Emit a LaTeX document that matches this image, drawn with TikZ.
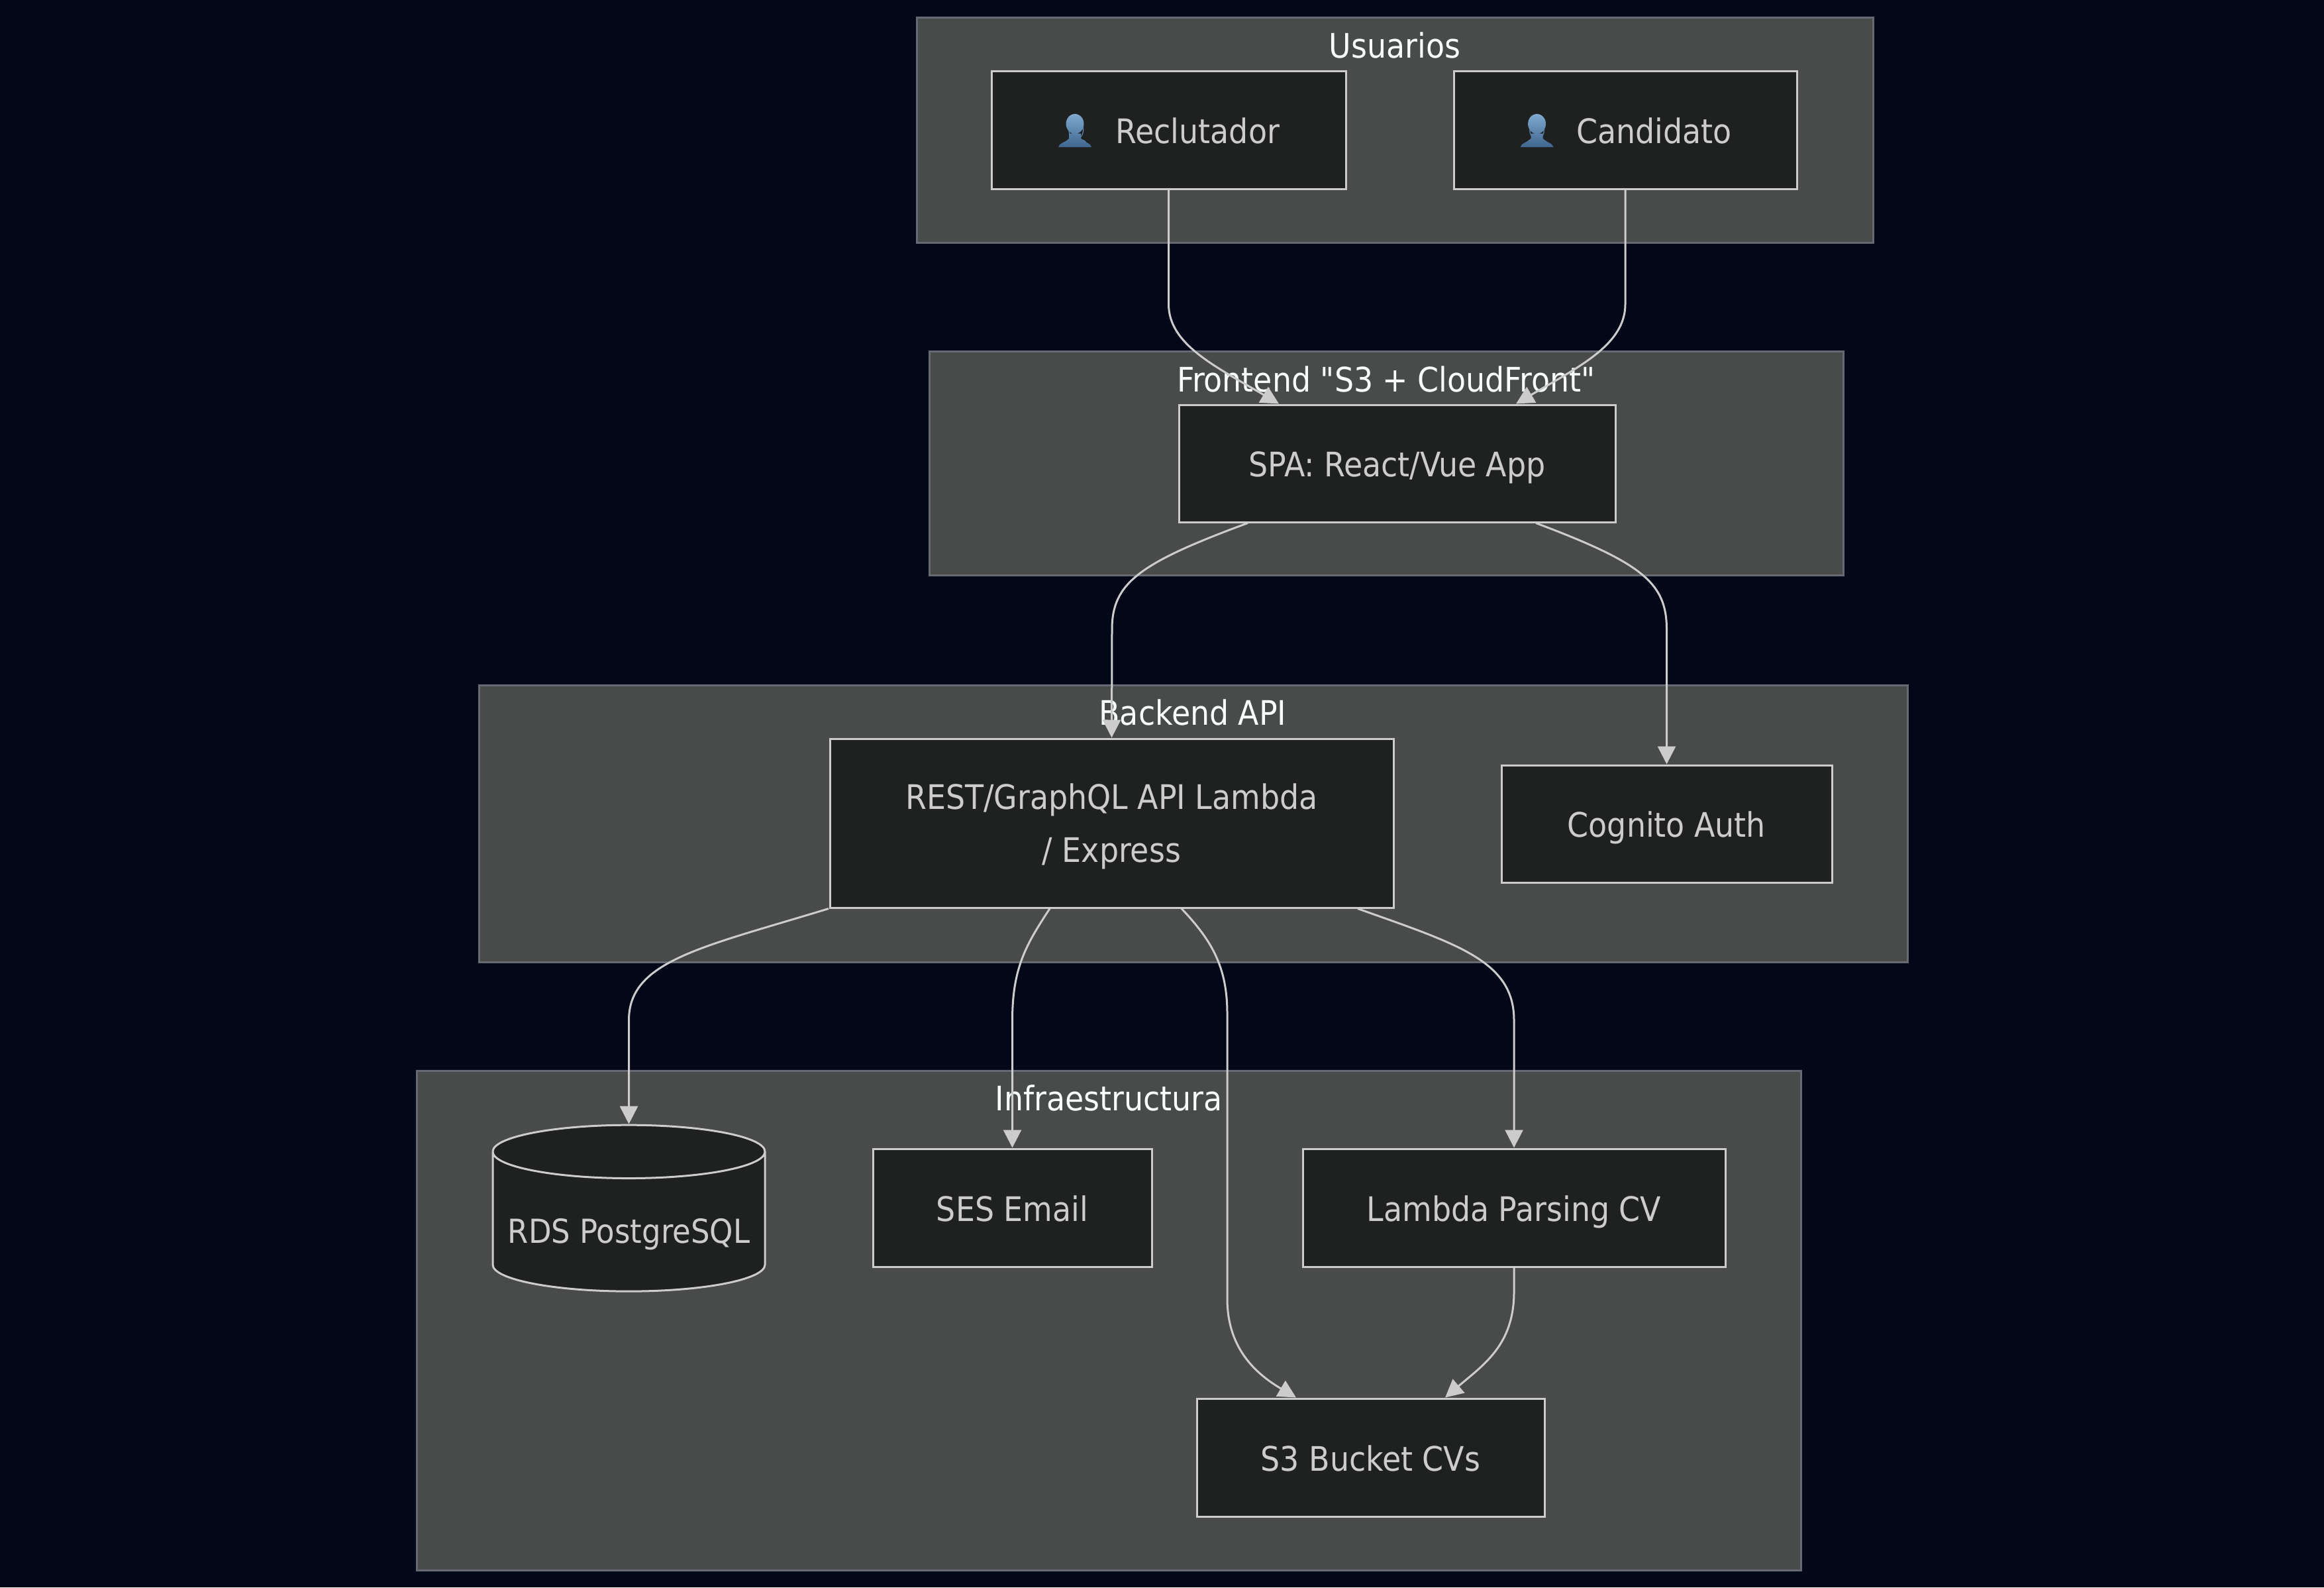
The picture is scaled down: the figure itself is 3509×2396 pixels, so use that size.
\documentclass[tikz,border=0pt]{standalone}
\usepackage{fontspec}
\newfontfamily\labelfont{DejaVu Sans Condensed}
\newfontfamily\emojifont{Noto Emoji}
\usetikzlibrary{arrows.meta,shapes.geometric}
\definecolor{pagebg}{HTML}{020817}
\definecolor{clusterbg}{HTML}{494A4A}
\definecolor{clusterline}{HTML}{666971}
\definecolor{nodebg}{HTML}{1F2120}
\definecolor{nodeline}{HTML}{CCCCCC}
\definecolor{titletext}{HTML}{F9FFFE}
\definecolor{personblue}{HTML}{5C88AF}
\definecolor{persontop}{HTML}{7FA9CF}
\definecolor{personbottom}{HTML}{3F668F}
\newcommand{\person}{\hspace{5pt}{\emojifont\fontsize{36}{36}\selectfont\color{personblue}\raisebox{3pt}{\char"1F464}}\hspace{37pt}}
\begin{document}
\begin{tikzpicture}[x=1pt, y=-1pt,
    cluster/.style={rectangle, draw=clusterline, fill=clusterbg, line width=3pt, inner sep=0pt},
    title/.style={text=titletext, font=\labelfont\fontsize{51}{80}\selectfont, text height=40pt, text depth=0pt, inner sep=0pt},
    box/.style={rectangle, draw=nodeline, fill=nodebg, line width=3pt, text=nodeline, inner sep=0pt, align=center, font=\labelfont\fontsize{51}{80}\selectfont, text height=40pt, text depth=0pt},
    db/.style={cylinder, shape border rotate=90, aspect=0.22, draw=nodeline, fill=nodebg, line width=3pt, text=nodeline, inner sep=0pt, font=\labelfont\fontsize{50}{80}\selectfont, text height=63pt, text depth=0pt},
    flow/.style={draw=nodeline, line width=3pt, -{Triangle[length=27pt, width=27pt]}},
    personicon/.pic={
        \shade [top color=persontop, bottom color=personbottom]
            (-25,26) .. controls (-24,20) and (-14,19) .. (-9,13) -- (-9,5.5) -- (9,5.5) -- (9,13) .. controls (14,19) and (24,20) .. (25,26) -- cycle
            (0,-9) ellipse [x radius=13.5, y radius=15];
    }]

    \useasboundingbox [fill=pagebg] (0,0) rectangle (3509,2396);

    \node [cluster, minimum width=1444, minimum height=340] (usuarios) at (2106,196) {};
    \node [cluster, minimum width=1380, minimum height=338] (frontend) at (2093,699) {};
    \node [cluster, minimum width=2157, minimum height=418] (backend) at (1801.5,1243) {};
    \node [cluster, minimum width=2090, minimum height=754] (infra) at (1674,1993) {};

    \node [title] (tusuarios) at (2106,67) {Usuarios};
    \node [title] (tfrontend) at (2093,571) {Frontend "S3 + CloudFront"};
    \node [title] (tbackend) at (1801,1074) {Backend API};
    \node [title] (tinfra) at (1674,1656) {Infraestructura};

    \node [box, minimum width=535, minimum height=178] (reclutador) at (1764.5,196) {\person Reclutador};
    \node [box, minimum width=518, minimum height=178] (candidato) at (2454,196) {\person Candidato};
    \node [box, minimum width=659, minimum height=177] (spa) at (2109.5,699.5) {SPA: React/Vue App};
    \node [box, text height=, text depth=0pt, minimum width=851, minimum height=255] (api) at (1678.5,1242.5) {REST/GraphQL API Lambda\\/ Express};
    \node [box, minimum width=499, minimum height=177] (cognito) at (2516.5,1243.5) {Cognito Auth};
    \node [db, minimum width=411, minimum height=251] (rds) at (949.5,1844.5) {RDS PostgreSQL};
    \node [box, minimum width=421, minimum height=178] (ses) at (1528.5,1823) {SES Email};
    \node [box, minimum width=638, minimum height=178] (lambda) at (2286,1823) {Lambda Parsing CV};
    \node [box, minimum width=525, minimum height=178] (bucket) at (2069.5,2200) {S3 Bucket CVs};

    \pic at ([xshift=-141.5pt]reclutador.center) {personicon};
    \pic at ([xshift=-133.5pt]candidato.center) {personicon};

    \draw[flow] (reclutador.south) -- (1764.5,459) .. controls (1764.5,520) and (1835,553) .. ([xshift=-178.5pt]spa.north);
    \draw[flow] (candidato.south) -- (2454,459) .. controls (2454,520) and (2385,553) .. ([xshift=179.5pt]spa.north);

    \draw[flow] ([xshift=-225.5pt]spa.south) .. controls (1720,850) and (1679,880) .. (1679,950) -- (api.north);
    \draw[flow] ([xshift=209.5pt]spa.south) .. controls (2480,850) and (2516.5,880) .. (2516.5,950) -- (cognito.north);

    \draw[flow] ([xshift=-427.5pt]api.south) .. controls (1060,1430) and (949.5,1450) .. (949.5,1540) -- (rds.north);
    \draw[flow] ([xshift=-93.5pt]api.south) .. controls (1550,1425) and (1528.5,1460) .. (1528.5,1540) -- (ses.north);
    \draw[flow] ([xshift=105.5pt]api.south) .. controls (1830,1420) and (1853,1460) .. (1853,1530) -- (1853,1960) .. controls (1853,2030) and (1890,2070) .. ([xshift=-112.5pt]bucket.north);
    \draw[flow] ([xshift=371.5pt]api.south) .. controls (2200,1425) and (2286,1450) .. (2286,1540) -- (lambda.north);
    \draw[flow] (lambda.south) -- (2286,1950) .. controls (2286,2030) and (2240,2060) .. ([xshift=112.5pt]bucket.north);

\end{tikzpicture}
\end{document}
